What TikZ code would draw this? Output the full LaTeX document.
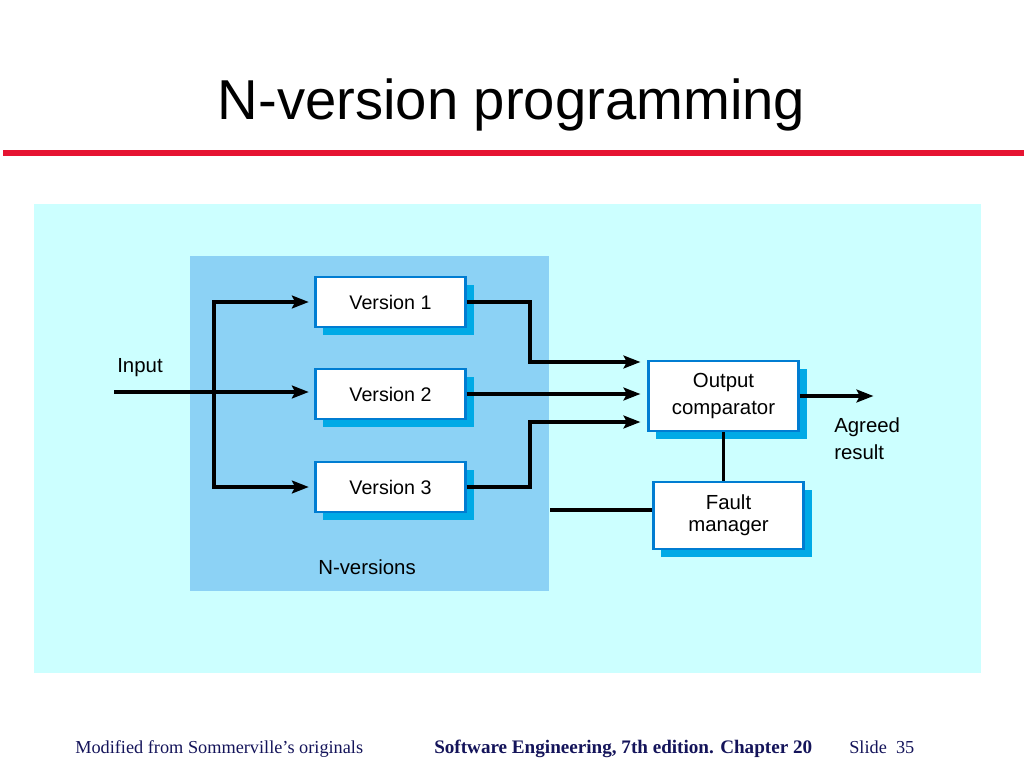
\documentclass[tikz,border=0pt]{standalone}
\usepackage{fontspec}
\setmainfont{Liberation Sans}
\newfontfamily\footfont{Liberation Serif}
\usetikzlibrary{arrows.meta,shadows}
\definecolor{bgcyan}{RGB}{204,255,255}
\definecolor{nblue}{RGB}{140,210,245}
\definecolor{shadowblue}{RGB}{0,170,230}
\definecolor{boxblue}{RGB}{0,125,210}
\definecolor{slidered}{RGB}{230,20,50}
\definecolor{footnavy}{RGB}{20,20,90}
\tikzset{
  version/.style={draw=boxblue,line width=1.6pt,fill=white,minimum width=3.75cm,minimum height=1.25cm,
    drop shadow={shadow xshift=0.2cm,shadow yshift=-0.2cm,fill=shadowblue,opacity=1},
    align=center,font=\fontsize{14}{19}\selectfont},
  txt/.style={font=\fontsize{14.5}{19.5}\selectfont,inner sep=0pt},
  foot/.style={text=footnavy,inner sep=0pt,font=\footfont\fontsize{13}{15}\selectfont},
  link/.style={line width=2.3pt},
  arr/.style={link,-{Stealth[length=0.42cm,width=0.32cm,inset=0.08cm]},shorten >=0.14cm}
}

\begin{document}
\begin{tikzpicture}[x=0.025cm,y=-0.025cm]
\useasboundingbox (0,0) rectangle (1024,768);
\fill[white] (0,0) rectangle (1024,768);
\node[font=\fontsize{40}{48}\selectfont,anchor=base,inner sep=0pt] (title) at (511.5,120) {N-version programming};
\fill[slidered] (3,150) rectangle (1024,156);
\fill[bgcyan] (34,204) rectangle (981,673);
\fill[nblue] (190,256) rectangle (549,591);
\node[version] (v1) at (390.5,302) {Version 1};
\node[version] (v2) at (390.5,394) {Version 2};
\node[version] (v3) at (390.5,487) {Version 3};
\node[version,minimum height=1.75cm,font=\fontsize{14.5}{19}\selectfont] (comp) at (723.5,396) {Output\\comparator};
\node[version,minimum height=1.68cm,font=\fontsize{14.5}{15.5}\selectfont] (fault) at (728.5,515.5) {Fault\\manager};
\node[txt] (input) at (140,368) {Input};
\node[txt,anchor=north west,align=left] (agreed) at (834,417) {Agreed\\result};
\node[txt] (nver) at (367,567) {N-versions};
\coordinate (in) at (114,392);
\coordinate (fork) at (214,392);
\coordinate (merge) at (530,392);
\coordinate (c1) at (646,362);
\coordinate (c3) at (646,422);
\coordinate (out) at (879,392);
\coordinate (fm) at (550,510);
\draw[arr] (in) -- (in -| v2.west);
\draw[arr] (fork |- v3.west) |- (v1.west);
\draw[arr] (fork) |- (v3.west);
\draw[arr] (v1.east) -- (v1.east -| merge) |- (c1);
\draw[arr] (v2.east) -- (v2.east -| c1);
\draw[arr] (v3.east) -- (v3.east -| merge) |- (c3);
\draw[arr] (comp.east) -- (comp.east -| out);
\draw[link] (comp.south) -- (comp.south |- fault.north);
\draw[link] (fm) -- (fm -| fault.west);
\node[foot,anchor=base west] (orig) at (75,753) {Modified from Sommerville’s originals};
\node[foot,anchor=base west,font=\footfont\bfseries\fontsize{13.6}{15}\selectfont] (book) at (434,753) {Software Engineering, 7th edition. Chapter 20};
\node[foot,anchor=base west] (slide) at (849,753) {Slide\ \ 35};
\end{tikzpicture}
\end{document}
